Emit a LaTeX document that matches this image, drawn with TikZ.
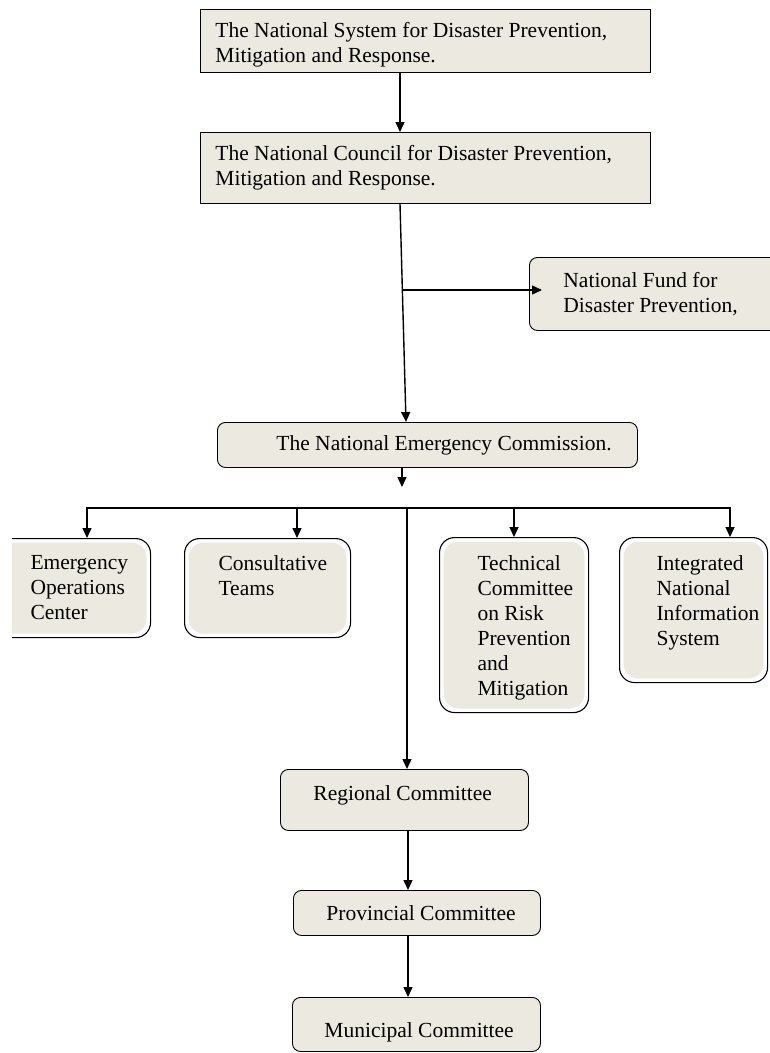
\documentclass[tikz,border=0pt]{standalone}
\usepackage{fontspec}
\setmainfont{Liberation Serif}
\usetikzlibrary{arrows.meta}
\definecolor{fond}{RGB}{236,233,224}
% largeur, hauteur, retrait gauche, retrait haut, texte
\newcommand{\boite}[5]{\parbox[t][#2][t]{#1}{\raggedright\leftskip=#3\relax\vspace*{#4}#5\par}}

\begin{document}
\begin{tikzpicture}[x = 1pt, y = 1pt]
     \tikzset{cadre/.style   = {draw,
                                fill        = fond,
                                line width  = 0.9pt,
                                inner sep   = 0pt,
                                anchor      = north west,
                                font        = \fontsize{21.5}{25}\selectfont},
              arrondi/.style = {cadre, rounded corners = 8pt},
              bloc/.style    = {cadre,
                                fill            = none,
                                line width      = 1.1pt,
                                rounded corners = 15pt,
                                path picture    = {\fill[fond]
                                   ([shift={(4pt,-4pt)}]path picture bounding box.north west)
                                   rectangle
                                   ([shift={(-4pt,4pt)}]path picture bounding box.south east);}},
              fleche/.style  = {line width = 1.4pt,
                                -{Triangle[length=10pt,width=9pt]}}}
     \useasboundingbox (0,0) rectangle (770,-1053);
     \clip (12,0) rectangle (770,-1053);% la page coupe les bords
     \node[cadre]   (systeme)    at (200,-9)   {\boite{450pt}{63pt}{15pt}{13pt}{The National System for Disaster Prevention,\\ Mitigation and Response.}};
     \node[cadre]   (conseil)    at (200,-132) {\boite{450pt}{71pt}{15pt}{13pt}{The National Council for Disaster Prevention,\\ Mitigation and Response.}};
     \node[arrondi] (fonds)      at (529,-257) {\boite{270pt}{73pt}{34pt}{15pt}{National Fund for\\ Disaster Prevention,}};
     \node[arrondi] (commission) at (217,-422) {\boite{420pt}{45pt}{59pt}{13pt}{The National Emergency Commission.}};
     \node[bloc]    (urgence)    at (-5,-538)  {\boite{155pt}{99pt}{35pt}{17pt}{Emergency\\ Operations\\ Center}};
     \node[bloc]    (conseils)   at (184,-538) {\boite{166pt}{99pt}{34pt}{17pt}{Consultative\\ Teams}};
     \node[bloc]    (technique)  at (439,-537) {\boite{149pt}{175pt}{38pt}{18pt}{Technical\\ Committee\\ on Risk\\ Prevention\\ and\\ Mitigation}};
     \node[bloc]    (info)       at (619,-537) {\boite{148pt}{145pt}{37pt}{18pt}{Integrated\\ National\\ Information\\ System}};
     \node[arrondi] (regional)   at (280,-769) {\boite{248pt}{61pt}{33pt}{16pt}{Regional Committee}};
     \node[arrondi] (provincial) at (293,-890) {\boite{247pt}{45pt}{33pt}{15pt}{Provincial Committee}};
     \node[arrondi] (municipal)  at (292,-997) {\boite{248pt}{54pt}{32pt}{25pt}{Municipal Committee}};
     \coordinate (axe)     at (400,0);
     \coordinate (axeb)    at (406,0);
     \coordinate (axec)    at (408,0);
     \coordinate (branche) at (402.4,-290);
     \coordinate (pointe)  at (402,-487);
     \coordinate (tronc)   at (407,-508);
     \coordinate (barreA)  at (87,-508);
     \coordinate (barreB)  at (297,-508);
     \coordinate (barreC)  at (514,-508);
     \coordinate (barreD)  at (730,-508);
     \draw[fleche] (systeme.south -| axe) -- (conseil.north -| axe);
     \draw[fleche] (conseil.south -| axe) -- (commission.north -| axeb);
     \draw[fleche, shorten >= -13pt] (branche) -- (fonds.west |- branche);
     \draw[fleche] (commission.south -| pointe) -- (pointe);
     \draw[line width = 1.4pt, line cap = rect] (barreA) -- (barreD);
     \draw[fleche] (barreA) -- (urgence.north -| barreA);
     \draw[fleche] (barreB) -- (conseils.north -| barreB);
     \draw[fleche] (barreC) -- (technique.north -| barreC);
     \draw[fleche] (barreD) -- (info.north -| barreD);
     \draw[fleche] (tronc) -- (regional.north -| tronc);
     \draw[fleche] (regional.south -| axec) -- (provincial.north -| axec);
     \draw[fleche] (provincial.south -| axec) -- (municipal.north -| axec);
\end{tikzpicture}
\end{document}
